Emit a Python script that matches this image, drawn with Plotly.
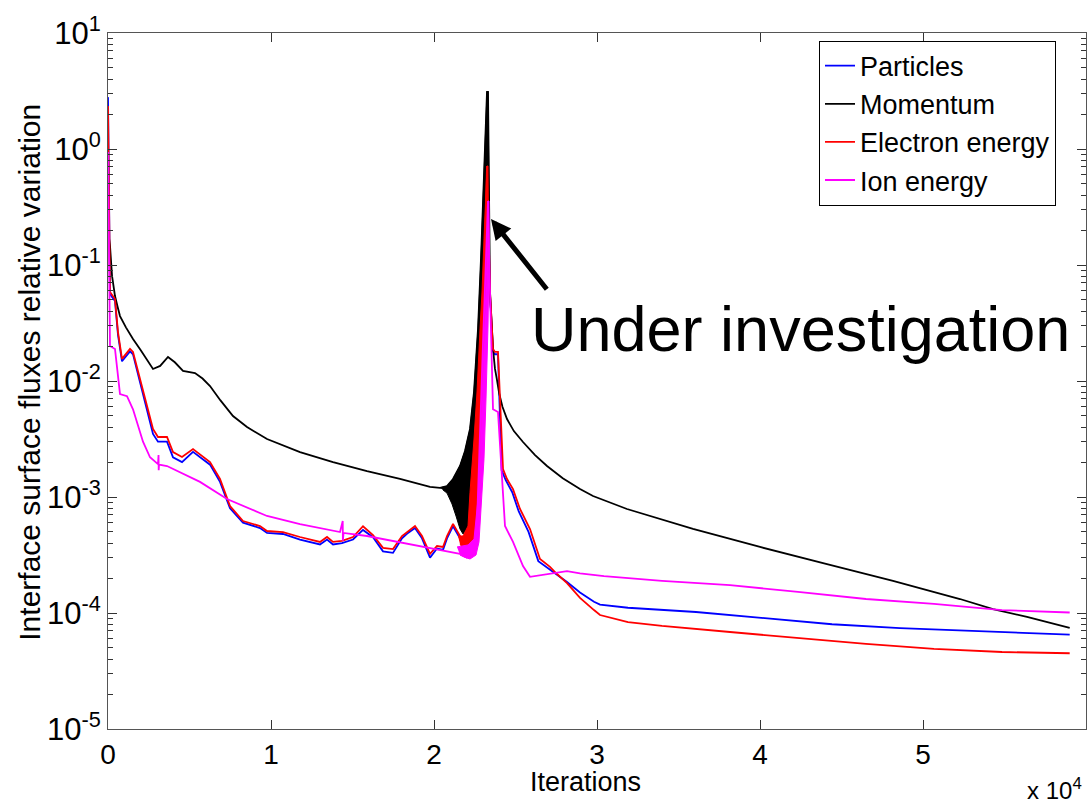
import math
import plotly.graph_objects as go

# ---------------- data (iterations, relative variation) ----------------
particles_x = [0, 60, 123, 429, 613, 859, 1350, 1534, 2147, 2761, 3067, 3620, 3988, 4540, 5215,
               6258, 6871, 7485, 8282, 9325, 9755, 10736, 11779, 13006, 13436, 13804, 14356, 15031,
               15644, 16258, 16871, 17485, 18037, 18405, 18834, 19264, 19755, 20184, 20552, 20798,
               21166, 21595, 21902, 22100, 22600, 23000, 23252, 23436, 23620, 23742, 23926, 24150,
               24400, 24800, 25200, 25800, 26400, 27050, 27400, 28160, 28957, 29816, 30184, 31900,
               36074, 40245, 44417, 48589, 52761, 59000]
particles_y = [2.8, 0.4, 0.056, 0.049, 0.025, 0.0148, 0.018, 0.017, 0.0075, 0.0035, 0.003, 0.003,
               0.0022, 0.002, 0.00245, 0.0019, 0.00135, 0.0008, 0.0006, 0.00054, 0.00049, 0.00048,
               0.00043, 0.00039, 0.00043, 0.00039, 0.0004, 0.00043, 0.00052, 0.00045, 0.00034,
               0.00033, 0.00044, 0.00049, 0.00054, 0.00044, 0.0003, 0.00036, 0.00035, 0.00044,
               0.00056, 0.00044, 0.00035, 0.00032, 0.0011, 0.028, 0.6, 0.055, 0.018, 0.017, 0.017,
               0.0017, 0.0014, 0.0011, 0.00075, 0.0005, 0.00028, 0.00024, 0.00022, 0.000185,
               0.00015, 0.000125, 0.000118, 0.000111, 0.000102, 0.00009, 0.00008, 0.000074,
               0.00007, 0.000065]

momentum_x = [0, 123, 250, 429, 600, 736, 1100, 1534, 2000, 2400, 2761, 3200, 3681, 4100, 4601,
              5337, 5800, 6258, 6900, 7669, 8528, 9755, 11779, 13804, 15890, 17914, 19755, 20368,
              20798, 21166, 21595, 21902, 22209, 22454, 22700, 22883, 23067, 23190, 23252, 23313,
              23436, 23620, 23742, 23850, 24000, 24200, 24479, 24900, 25460, 26200, 26933, 27900,
              28957, 29755, 31840, 35890, 40000, 44110, 48160, 52270, 54294, 56380, 58528, 59000]
momentum_y = [0.2, 0.146, 0.08, 0.054, 0.043, 0.0363, 0.029, 0.023, 0.0185, 0.0152, 0.0127,
              0.0135, 0.0161, 0.0145, 0.0122, 0.0117, 0.0105, 0.00905, 0.0068, 0.00499, 0.00401,
              0.00316, 0.00244, 0.002, 0.00167, 0.00143, 0.00122, 0.0012, 0.00124, 0.00143,
              0.00185, 0.00249, 0.00386, 0.00804, 0.0281, 0.113, 0.551, 1.81, 3.1, 3.1, 0.0585,
              0.0189, 0.0127, 0.0105, 0.0078, 0.006, 0.0047, 0.0037, 0.00298, 0.0023, 0.00185,
              0.00145, 0.00117, 0.00102, 0.000788, 0.00053, 0.000371, 0.000264, 0.000189,
              0.000132, 0.000108, 0.0000924, 0.0000773, 0.0000745]

electron_x = [0, 60, 123, 429, 613, 859, 1350, 1534, 2147, 2761, 3067, 3620, 3988, 4540, 5215,
              6258, 6871, 7485, 8282, 9325, 9755, 10736, 11779, 13006, 13436, 13804, 14356, 15031,
              15644, 16258, 16871, 17485, 18037, 18405, 18834, 19264, 19755, 20184, 20552, 20798,
              21166, 21595, 21902, 22100, 22600, 23000, 23252, 23436, 23620, 23742, 23926, 24233,
              24479, 24847, 25276, 25890, 26503, 27117, 27500, 28160, 28957, 29816, 30184, 31900,
              33988, 38160, 42331, 46503, 50675, 54847, 59000]
electron_y = [2.35, 0.4, 0.0585, 0.0509, 0.0264, 0.0155, 0.0189, 0.0178, 0.00804, 0.00386,
              0.00329, 0.00329, 0.00244, 0.00221, 0.00259, 0.002, 0.00143, 0.000836, 0.000621,
              0.000562, 0.000509, 0.000499, 0.000452, 0.00041, 0.000452, 0.00041, 0.000418,
              0.000452, 0.00056, 0.00047, 0.000364, 0.000356, 0.000461, 0.000509, 0.000562,
              0.000461, 0.000323, 0.000378, 0.000371, 0.000461, 0.000585, 0.000461, 0.000371,
              0.00034, 0.0012, 0.03, 0.713, 0.0585, 0.0189, 0.0178, 0.0178, 0.00174, 0.00143,
              0.00117, 0.000788, 0.00053, 0.000292, 0.00025, 0.00022, 0.000181, 0.000135,
              0.000106, 0.0000961, 0.0000836, 0.0000773, 0.0000686, 0.0000608, 0.0000541,
              0.000049, 0.0000461, 0.000045]

ion_x = [0, 60, 123, 429, 552, 736, 1166, 1534, 2147, 2577, 3067, 3100, 3110, 3129, 3620, 5644,
         7301, 9755, 11779, 14233, 14400, 14410, 14420, 14450, 15890, 17730, 19755, 20798, 21595,
         22000, 22600, 23000, 23313, 23436, 23620, 23926, 24233, 24356, 24847, 25460, 25890, 26933,
         28160, 28957, 30429, 33988, 38160, 42331, 46503, 50675, 54847, 59000]
ion_y = [0.94, 0.2, 0.02, 0.0189, 0.0135, 0.0077, 0.0074, 0.0057, 0.003, 0.0022, 0.00192, 0.0023,
         0.0017, 0.0019, 0.00185, 0.00135, 0.00096, 0.000686, 0.000585, 0.000499, 0.00062,
         0.00042, 0.000499, 0.00049, 0.000461, 0.00041, 0.000364, 0.000342, 0.000323, 0.0003,
         0.0004, 0.02, 0.356, 0.058, 0.0057, 0.0054, 0.00124, 0.000562, 0.00041, 0.000254,
         0.000205, 0.000217, 0.00023, 0.00022, 0.000208, 0.000189, 0.000174, 0.000152, 0.000132,
         0.00012, 0.000106, 0.000101]

# oscillation envelopes around the spike (outline of the dense region)
mom_band_x = [20368, 20798, 21166, 21595, 21902, 22209, 22454, 22700, 22883, 23067, 23190, 23252,
              23313, 23374, 23190, 23006, 22761, 22515, 22331, 22025, 21779, 21595, 21350, 21104,
              20798, 20552]
mom_band_y = [0.0012, 0.00124, 0.00143, 0.00185, 0.00249, 0.00386, 0.00804, 0.0281, 0.113, 0.551,
              1.81, 3.1, 3.1, 0.371, 0.113, 0.0155, 0.00316, 0.0011, 0.000743, 0.00053, 0.00048,
              0.00053, 0.000686, 0.000871, 0.00108, 0.00115]

ele_band_x = [21472, 21779, 22086, 22209, 22454, 22638, 22822, 22945, 23067, 23190, 23252, 23313,
              23313, 23252, 23129, 23006, 22822, 22638, 22393, 22086, 21779, 21595]
ele_band_y = [0.000461, 0.000461, 0.000562, 0.0011, 0.00316, 0.00804, 0.0281, 0.0585, 0.168,
              0.426, 0.713, 0.713, 0.426, 0.0585, 0.00804, 0.00213, 0.0011, 0.000562, 0.000394,
              0.000356, 0.000356, 0.000394]

ion_band_x = [21411, 21718, 22086, 22454, 22700, 22822, 23006, 23129, 23252, 23313, 23374, 23374,
              23313, 23190, 23067, 22883, 22761, 22577, 22209, 21840, 21595]
ion_band_y = [0.000371, 0.000378, 0.000386, 0.000435, 0.000961, 0.00213, 0.0104, 0.0298, 0.113,
              0.356, 0.356, 0.113, 0.0298, 0.007, 0.00213, 0.000788, 0.00041, 0.000316, 0.000292,
              0.000304, 0.000316]

x_tickvals = [0, 10000, 20000, 30000, 40000, 50000, 60000]
x_ticktext = ["0", "1", "2", "3", "4", "5", "6"]
y_exponents = [-5, -4, -3, -2, -1, 0, 1]

# arrow: head and tail in data units
arrow_head = (23497, 0.249)
arrow_tail = (26994, 0.06)

# ---------------- figure ----------------
FONT = "Liberation Sans, Arial, Helvetica, sans-serif"
LW = 1.8

fig = go.Figure()


def band(x, y, color):
    fig.add_trace(go.Scatter(x=x, y=y, mode="lines", fill="toself", fillcolor=color,
                             line=dict(color=color, width=1), showlegend=False,
                             hoverinfo="skip"))


fig.add_trace(go.Scatter(x=particles_x, y=particles_y, mode="lines", name="Particles",
                         line=dict(color="#0000ff", width=LW)))
fig.add_trace(go.Scatter(x=momentum_x, y=momentum_y, mode="lines", name="Momentum",
                         line=dict(color="#000000", width=LW)))
band(mom_band_x, mom_band_y, "#000000")
fig.add_trace(go.Scatter(x=electron_x, y=electron_y, mode="lines", name="Electron energy",
                         line=dict(color="#ff0000", width=LW)))
band(ele_band_x, ele_band_y, "#ff0000")
fig.add_trace(go.Scatter(x=ion_x, y=ion_y, mode="lines", name="Ion energy",
                         line=dict(color="#ff00ff", width=LW)))
band(ion_band_x, ion_band_y, "#ff00ff")

minor_vals = [m * 10 ** e for e in y_exponents[:-1] for m in range(2, 10)]

fig.update_layout(
    width=1092, height=807,
    margin=dict(l=108, r=6, t=33, b=78),
    paper_bgcolor="white", plot_bgcolor="white",
    font=dict(family=FONT, color="black"),
    showlegend=True,
    legend=dict(x=0.727, y=0.989, xanchor="left", yanchor="top",
                bgcolor="white", bordercolor="black", borderwidth=1,
                font=dict(size=27, family=FONT), tracegroupgap=0),
    xaxis=dict(range=[0, 60000], tickmode="array", tickvals=x_tickvals, ticktext=x_ticktext,
               ticks="inside", ticklen=9, tickcolor="#333", showline=True, linecolor="#555",
               linewidth=1, mirror="ticks", showgrid=False, zeroline=False,
               tickfont=dict(size=28, family=FONT)),
    yaxis=dict(type="log", range=[-5, 1], tickmode="array",
               tickvals=[10 ** e for e in y_exponents],
               ticktext=["10<sup>%d</sup>" % e for e in y_exponents],
               ticks="inside", ticklen=9, tickcolor="#333", showline=True, linecolor="#555",
               linewidth=1, mirror="ticks", showgrid=False, zeroline=False,
               tickfont=dict(size=31, family=FONT),
               minor=dict(tickmode="array", tickvals=minor_vals, ticks="inside", ticklen=5,
                          tickcolor="#333", showgrid=False)),
)

fig.add_annotation(text="Interface surface fluxes relative variation", xref="paper", yref="paper",
                   x=-0.08, y=0.513, textangle=-90, showarrow=False,
                   font=dict(size=30, family=FONT), xanchor="center", yanchor="middle")
fig.add_annotation(text="Iterations", xref="paper", yref="paper", x=0.488, y=-0.076,
                   showarrow=False, font=dict(size=27, family=FONT),
                   xanchor="center", yanchor="middle")
fig.add_annotation(text="x 10<sup>4</sup>", xref="paper", yref="paper", x=0.998, y=-0.086,
                   showarrow=False, font=dict(size=24, family=FONT),
                   xanchor="right", yanchor="middle")
fig.add_annotation(text="Under investigation", xref="paper", yref="paper", x=0.43, y=0.575,
                   showarrow=False, font=dict(size=63, family=FONT),
                   xanchor="left", yanchor="middle")
fig.add_annotation(x=arrow_head[0], y=math.log10(arrow_head[1]),
                   ax=arrow_tail[0], ay=math.log10(arrow_tail[1]), xref="x", yref="y",
                   axref="x", ayref="y", text="", showarrow=True, arrowhead=2,
                   arrowsize=0.8, arrowwidth=5, arrowcolor="black")

fig.write_html("out.html")
